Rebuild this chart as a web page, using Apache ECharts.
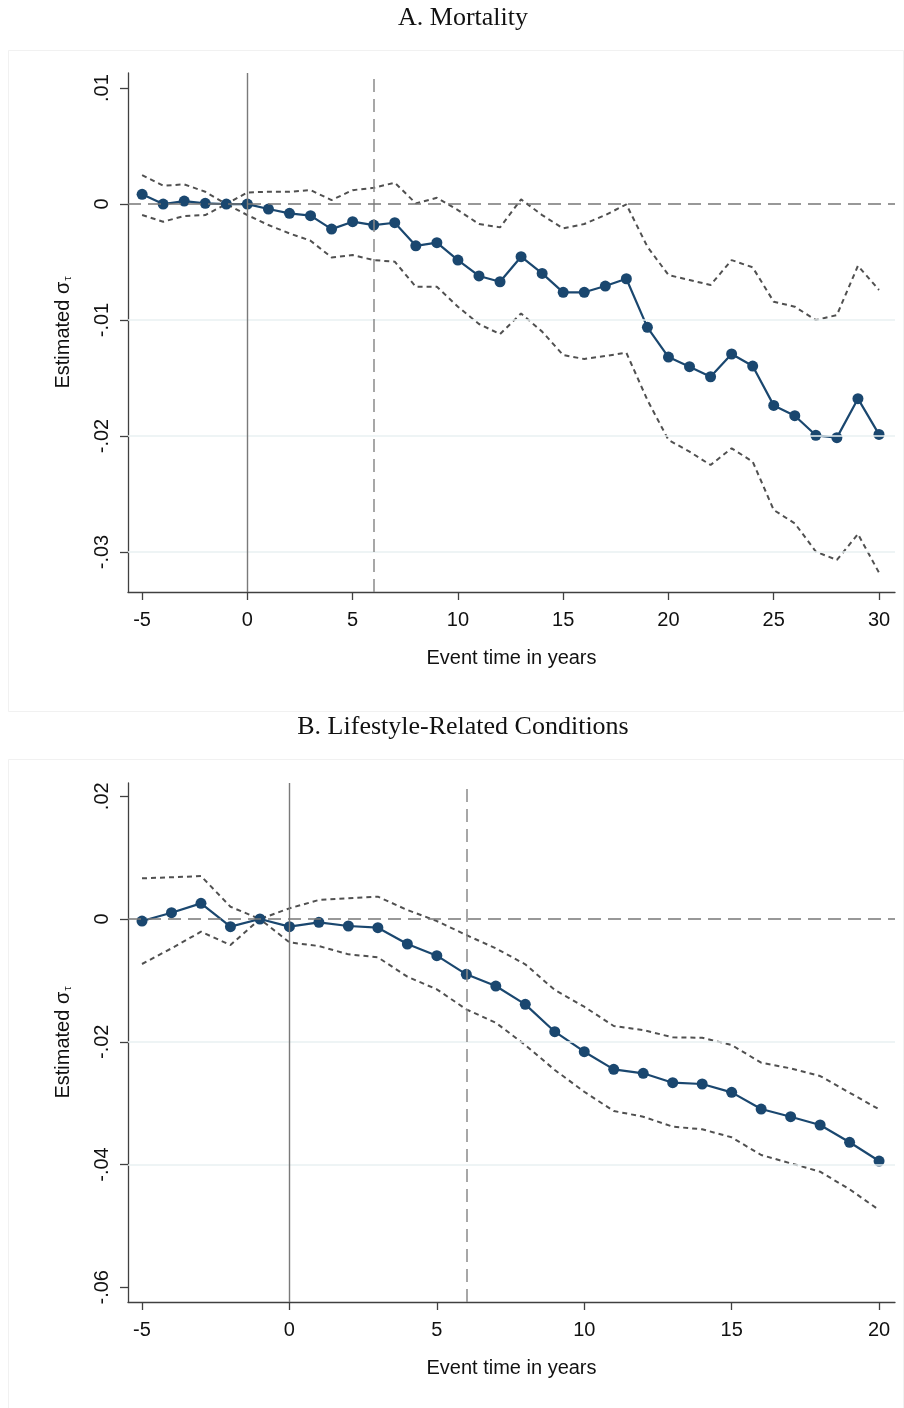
<!DOCTYPE html>
<html><head><meta charset="utf-8">
<script src="https://cdn.jsdelivr.net/npm/echarts@6/dist/echarts.min.js"></script>
<style>html,body{margin:0;padding:0;background:#fff}#c{width:904px;height:1408px}</style>
</head><body><div id="c"></div>
<script>
// ---- Panel A: Mortality ----
const yearsA = [-5,-4,-3,-2,-1,0,1,2,3,4,5,6,7,8,9,10,11,12,13,14,15,16,17,18,19,20,21,22,23,24,25,26,27,28,29,30];
const estA = [0.00084,0,0.00026,0.00006,0,0,-0.00043,-0.0008,-0.001,-0.00216,-0.00152,-0.00181,-0.00161,-0.0036,-0.00333,-0.00483,-0.0062,-0.0067,-0.00454,-0.00598,-0.00761,-0.00761,-0.00707,-0.00644,-0.01063,-0.01319,-0.01402,-0.01489,-0.01293,-0.01397,-0.01736,-0.01825,-0.01994,-0.02014,-0.01678,-0.01986];
const upA = [0.0025,0.00158,0.0017,0.00106,0,0.001,0.00106,0.00106,0.0012,0.00034,0.0012,0.0014,0.00184,0.00006,0.00054,-0.00052,-0.00172,-0.00201,0.0004,-0.00095,-0.0021,-0.00172,-0.00095,-0.00003,-0.00368,-0.00612,-0.00655,-0.00698,-0.00483,-0.00546,-0.00842,-0.00885,-0.01,-0.00957,-0.00532,-0.00741];
const loA = [-0.00095,-0.00152,-0.00103,-0.00095,0,-0.00095,-0.00181,-0.00253,-0.00316,-0.0046,-0.0044,-0.00483,-0.00497,-0.00713,-0.00713,-0.00885,-0.01034,-0.01121,-0.00943,-0.011,-0.01302,-0.01336,-0.0131,-0.01282,-0.0169,-0.02034,-0.02135,-0.0225,-0.02106,-0.02221,-0.02638,-0.02753,-0.02997,-0.03069,-0.02845,-0.03178];
const xTicksA = [-5,0,5,10,15,20,25,30];
const yTicksA = [-0.03,-0.02,-0.01,0,0.01];
const gridA = [-0.03,-0.02,-0.01];

// ---- Panel B: Lifestyle-Related Conditions ----
const yearsB = [-5,-4,-3,-2,-1,0,1,2,3,4,5,6,7,8,9,10,11,12,13,14,15,16,17,18,19,20];
const estB = [-0.00033,0.00103,0.00255,-0.00125,0,-0.00125,-0.00054,-0.00114,-0.00141,-0.00407,-0.00597,-0.00901,-0.01092,-0.0139,-0.01836,-0.02162,-0.02449,-0.02514,-0.02667,-0.02688,-0.02824,-0.03096,-0.03221,-0.03356,-0.03638,-0.03943];
const upB = [0.00663,0.0068,0.007,0.002,0,0.00174,0.0031,0.00337,0.00364,0.00147,-0.00033,-0.00261,-0.00478,-0.00738,-0.01157,-0.01429,-0.01743,-0.01809,-0.01928,-0.01934,-0.02053,-0.02341,-0.02433,-0.02558,-0.0283,-0.03101];
const loB = [-0.00733,-0.00478,-0.00207,-0.00424,0,-0.0038,-0.0044,-0.00576,-0.00624,-0.0094,-0.01146,-0.01472,-0.0169,-0.02053,-0.0246,-0.02814,-0.03128,-0.03221,-0.03384,-0.03426,-0.03557,-0.03845,-0.0398,-0.04117,-0.04404,-0.04741];
const xTicksB = [-5,0,5,10,15,20];
const yTicksB = [-0.06,-0.04,-0.02,0,0.02];
const gridB = [-0.04,-0.02];

const eventLine = 6;
const titleA = 'A. Mortality';
const titleB = 'B. Lifestyle-Related Conditions';
const xName = 'Event time in years';

const NAVY = '#1a476f';
const AXC = '#404040';
function fmt(v){ if (Math.abs(v) < 1e-12) return '0'; return String(+v.toFixed(4)).replace('0.', '.'); }
function pairs(xs, ys){ return xs.map((x,i)=>[x, ys[i]]); }

function xAxisDef(idx, min, max, ticks){
  return {
    type:'value', gridIndex: idx, min, max,
    name: xName, nameLocation:'middle', nameGap: 56,
    nameTextStyle:{fontFamily:'Liberation Sans, Arial', fontSize:20, color:'#111'},
    axisLine:{show:true, onZero:false, lineStyle:{color:AXC, width:1.3}},
    axisTick:{show:true, length:8, customValues: ticks, lineStyle:{color:AXC, width:1.3}},
    axisLabel:{customValues: ticks, margin:18, fontFamily:'Liberation Sans, Arial', fontSize:20, color:'#111', formatter: v=>String(v)},
    splitLine:{show:false}
  };
}
function yAxisDef(idx, min, max, ticks){
  return {
    type:'value', gridIndex: idx, min, max,
    name: '{a|Estimated σ}{s|τ}', nameLocation:'middle', nameGap: 55, nameRotate: 90,
    nameTextStyle:{rich:{a:{fontFamily:'Liberation Sans, Arial', fontSize:20, color:'#111'}, s:{fontFamily:'Liberation Sans, Arial', fontSize:11, color:'#111', verticalAlign:'bottom', padding:[0,0,0,1]}}},
    axisLine:{show:true, onZero:false, lineStyle:{color:AXC, width:1.3}},
    axisTick:{show:true, length:8, customValues: ticks, lineStyle:{color:AXC, width:1.3}},
    axisLabel:{customValues: ticks, rotate:90, margin:16, fontFamily:'Liberation Sans, Arial', fontSize:20, color:'#111', formatter: fmt},
    splitLine:{show:false}
  };
}
function panelSeries(idx, xs, est, up, lo, grids){
  const ml = [];
  grids.forEach(g=>ml.push({yAxis:g, lineStyle:{color:'#e8f0f2', width:1.5, type:'solid'}}));
  const refs = [
    {xAxis:0, lineStyle:{color:'#7a7a7a', width:1.4, type:'solid'}},
    {xAxis:eventLine, lineStyle:{color:'#8a8a8a', width:1.5, type:[13,7]}},
    {yAxis:0, lineStyle:{color:'#777', width:1.5, type:[13,7]}}
  ];
  return [
    {type:'line', xAxisIndex:idx, yAxisIndex:idx, data:[], silent:true, z:1,
     markLine:{silent:true, symbol:['none','none'], label:{show:false}, animation:false, data: ml.concat(refs)}},
    {type:'line', xAxisIndex:idx, yAxisIndex:idx, data:pairs(xs, up), symbol:'none', z:3,
     lineStyle:{color:'#505050', width:2, type:[5,4]}},
    {type:'line', xAxisIndex:idx, yAxisIndex:idx, data:pairs(xs, lo), symbol:'none', z:3,
     lineStyle:{color:'#505050', width:2, type:[5,4]}},
    {type:'line', xAxisIndex:idx, yAxisIndex:idx, data:pairs(xs, est), symbol:'circle', symbolSize:11, z:4,
     lineStyle:{color:NAVY, width:2.2}, itemStyle:{color:NAVY}}
  ];
}

const chart = echarts.init(document.getElementById('c'), null, {renderer:'canvas'});
chart.setOption({
  animation:false,
  backgroundColor:'#fff',
  grid:[
    {left:128, top:73, width:767, height:519},
    {left:128, top:783, width:767, height:519}
  ],
  xAxis:[ xAxisDef(0, -5.67, 30.76, xTicksA), xAxisDef(1, -5.475, 20.54, xTicksB) ],
  yAxis:[ yAxisDef(0, -0.03345, 0.0113, yTicksA), yAxisDef(1, -0.0624, 0.02216, yTicksB) ],
  graphic:[
    {type:'rect', shape:{x:8.5, y:50.5, width:895, height:661}, style:{fill:'none', stroke:'#f1f1f1', lineWidth:1}, silent:true, z:-1},
    {type:'rect', shape:{x:8.5, y:759.5, width:895, height:660}, style:{fill:'none', stroke:'#f1f1f1', lineWidth:1}, silent:true, z:-1},
    {type:'text', x:463, y:18, style:{text:titleA, fontFamily:'Liberation Serif, Times New Roman', fontSize:26, fill:'#111', textAlign:'center', textVerticalAlign:'middle'}},
    {type:'text', x:463, y:727, style:{text:titleB, fontFamily:'Liberation Serif, Times New Roman', fontSize:26, fill:'#111', textAlign:'center', textVerticalAlign:'middle'}}
  ],
  series: panelSeries(0, yearsA, estA, upA, loA, gridA).concat(panelSeries(1, yearsB, estB, upB, loB, gridB))
});
</script></body></html>
